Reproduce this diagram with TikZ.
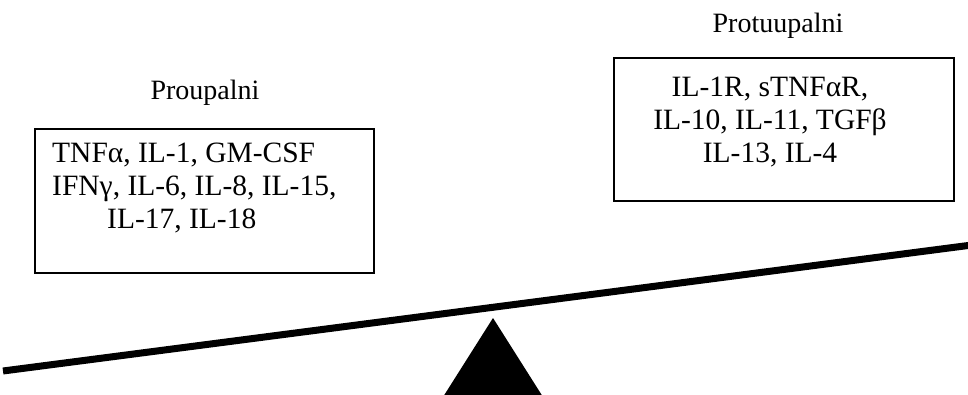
\documentclass[tikz,border=0pt]{standalone}
\usepackage{fontspec}
\setmainfont{Liberation Serif}
\usetikzlibrary{positioning}

\begin{document}
\begin{tikzpicture}[
    x=1pt, y=-1pt,
    font=\fontsize{28}{32}\selectfont,
    box/.style={draw, line width=1.6pt, inner sep=0pt, anchor=north west},
    lbl/.style={inner sep=0pt, anchor=base},
    txt/.style={inner sep=0pt, anchor=north west, align=left,
      font=\fontsize{29.5}{33}\selectfont},
    beam/.style={line width=7pt},
  ]
    \useasboundingbox (0,0) rectangle (968,395);

    % --- pro side (left) ---
    \node[box, minimum width=339pt, minimum height=144pt] (pro) at (34,128) {};
    \node[lbl] (pro-lbl) at (205,100) {Proupalni};
    \node[txt, below right=15pt and 18pt of pro.north west, anchor=north west]
      (pro-txt) {TNFα, IL-1, GM-CSF\\IFNγ, IL-6, IL-8, IL-15,\\\hspace*{55pt}IL-17, IL-18};

    % --- anti side (right) ---
    \node[box, minimum width=340pt, minimum height=143pt] (anti) at (613,57) {};
    \node[lbl] (anti-lbl) at (778,33) {Protuupalni};
    \node[txt, align=center, anchor=north] (anti-txt) at (770,77)
      {IL-1R, sTNFαR,\\IL-10, IL-11, TGFβ\\IL-13, IL-4};

    % --- beam and fulcrum ---
    \coordinate (beam-l) at (3,371);
    \coordinate (beam-r) at (972,245);
    \draw[beam] (beam-l) -- (beam-r);
    \fill (493,318) -- (543,397) -- (443,397) -- cycle;
\end{tikzpicture}
\end{document}
